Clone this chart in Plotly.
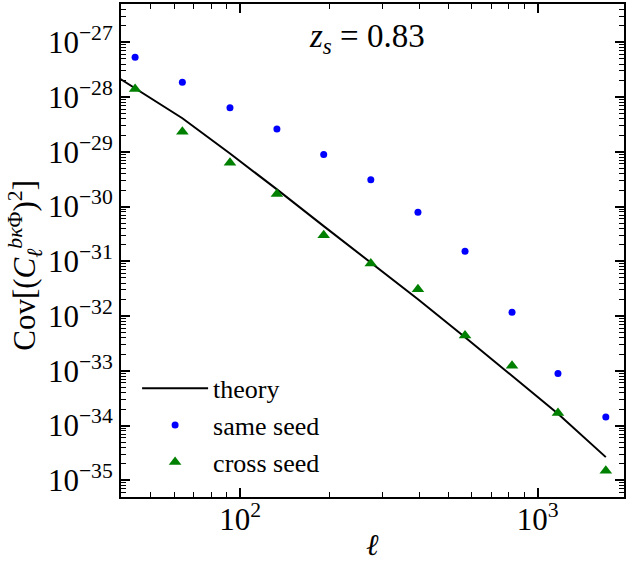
import plotly.graph_objects as go

ell = [44.4, 64, 92.5, 133, 191, 275, 396, 570, 820, 1170, 1694]
same_seed = [5.32e-28, 1.86e-28, 6.37e-29, 2.60e-29, 8.96e-30, 3.08e-30,
             7.9e-31, 1.53e-31, 1.17e-32, 8.9e-34, 1.44e-34]
cross_seed = [1.40e-28, 2.32e-29, 6.3e-30, 1.69e-30, 3.0e-31, 9.1e-32,
              3.09e-32, 4.4e-33, 1.24e-33, 1.69e-34, 1.49e-35]
theory_ell = [30.8, 44.4, 64, 92.5, 133, 191, 275, 396, 570, 820, 1170, 1694]
theory = [5.1e-28, 1.45e-28, 4.1e-29, 9.3e-30, 2.06e-30, 4.4e-31, 9.5e-32,
          2.03e-32, 4.1e-33, 8.2e-34, 1.65e-34, 2.65e-35]

x_ticks = [100, 1000]
x_ticktext = ["10<sup>2</sup>", "10<sup>3</sup>"]
y_exps = list(range(-35, -26))
y_ticks = [10.0 ** e for e in y_exps]
y_ticktext = ["10<sup>\u2212%d</sup>" % (-e) for e in y_exps]

FONT = "Liberation Serif, Times New Roman, serif"

x_minor = [m * 10 ** d for d in range(1, 4) for m in range(2, 10)]
y_minor = [m * 10.0 ** d for d in range(-36, -26) for m in range(2, 10)]

fig = go.Figure()
fig.add_trace(go.Scatter(x=theory_ell, y=theory, mode="lines", name="theory",
                         line=dict(color="black", width=2)))
fig.add_trace(go.Scatter(x=ell, y=same_seed, mode="markers", name="same seed",
                         marker=dict(color="blue", size=7, symbol="circle")))
fig.add_trace(go.Scatter(x=ell, y=cross_seed, mode="markers", name="cross seed",
                         marker=dict(color="green", size=11, symbol="triangle-up")))

fig.update_layout(
    width=628, height=562,
    margin=dict(l=121, r=4, t=4, b=65),
    paper_bgcolor="white", plot_bgcolor="white",
    font=dict(family=FONT, size=26, color="black"),
    showlegend=True,
    legend=dict(x=0.032, y=0.268, xanchor="left", yanchor="top",
                bgcolor="rgba(0,0,0,0)", font=dict(size=26, family=FONT),
                tracegroupgap=0, itemwidth=66),
    annotations=[
        dict(x=0.49, y=0.975, xref="paper", yref="paper",
             text="<i>z<sub>s</sub></i> = 0.83", showarrow=False,
             font=dict(size=33, family=FONT), xanchor="center", yanchor="top"),
        dict(x=0.5, y=-0.097, xref="paper", yref="paper",
             text="<i>\u2113</i>", showarrow=False,
             font=dict(size=30, family=FONT), xanchor="center", yanchor="middle"),
        dict(x=-0.19, y=0.47, xref="paper", yref="paper", textangle=-90,
             text="Cov[(<i>C</i><sub><i>\u2113</i></sub><sup><i>b\u03ba</i>\u03a6</sup>)<sup>2</sup>]",
             showarrow=False, font=dict(size=31, family=FONT),
             xanchor="center", yanchor="middle"),
    ],
)
fig.update_xaxes(
    type="log", range=[1.600, 3.290], automargin=False,
    tickvals=x_ticks, ticktext=x_ticktext,
    ticks="inside", ticklen=9, tickwidth=1.5, tickcolor="black",
    showline=True, linecolor="black", linewidth=2, mirror="ticks",
    showgrid=False, zeroline=False,
    tickfont=dict(size=31, family=FONT), ticklabelstandoff=-6,
    minor=dict(tickvals=x_minor, ticks="inside", ticklen=5, tickwidth=1, tickcolor="black", showgrid=False),
)
fig.update_yaxes(
    type="log", range=[-35.305, -26.30], automargin=False,
    tickvals=y_ticks, ticktext=y_ticktext,
    ticks="inside", ticklen=9, tickwidth=1.5, tickcolor="black",
    showline=True, linecolor="black", linewidth=2, mirror="ticks",
    showgrid=False, zeroline=False,
    tickfont=dict(size=31, family=FONT), ticklabelstandoff=0,
    minor=dict(tickvals=y_minor, ticks="inside", ticklen=5, tickwidth=1, tickcolor="black", showgrid=False),
)

fig.write_html("out.html", config={"displayModeBar": False},
               post_script="document.body.style.margin='0';document.body.style.overflow='hidden';")
